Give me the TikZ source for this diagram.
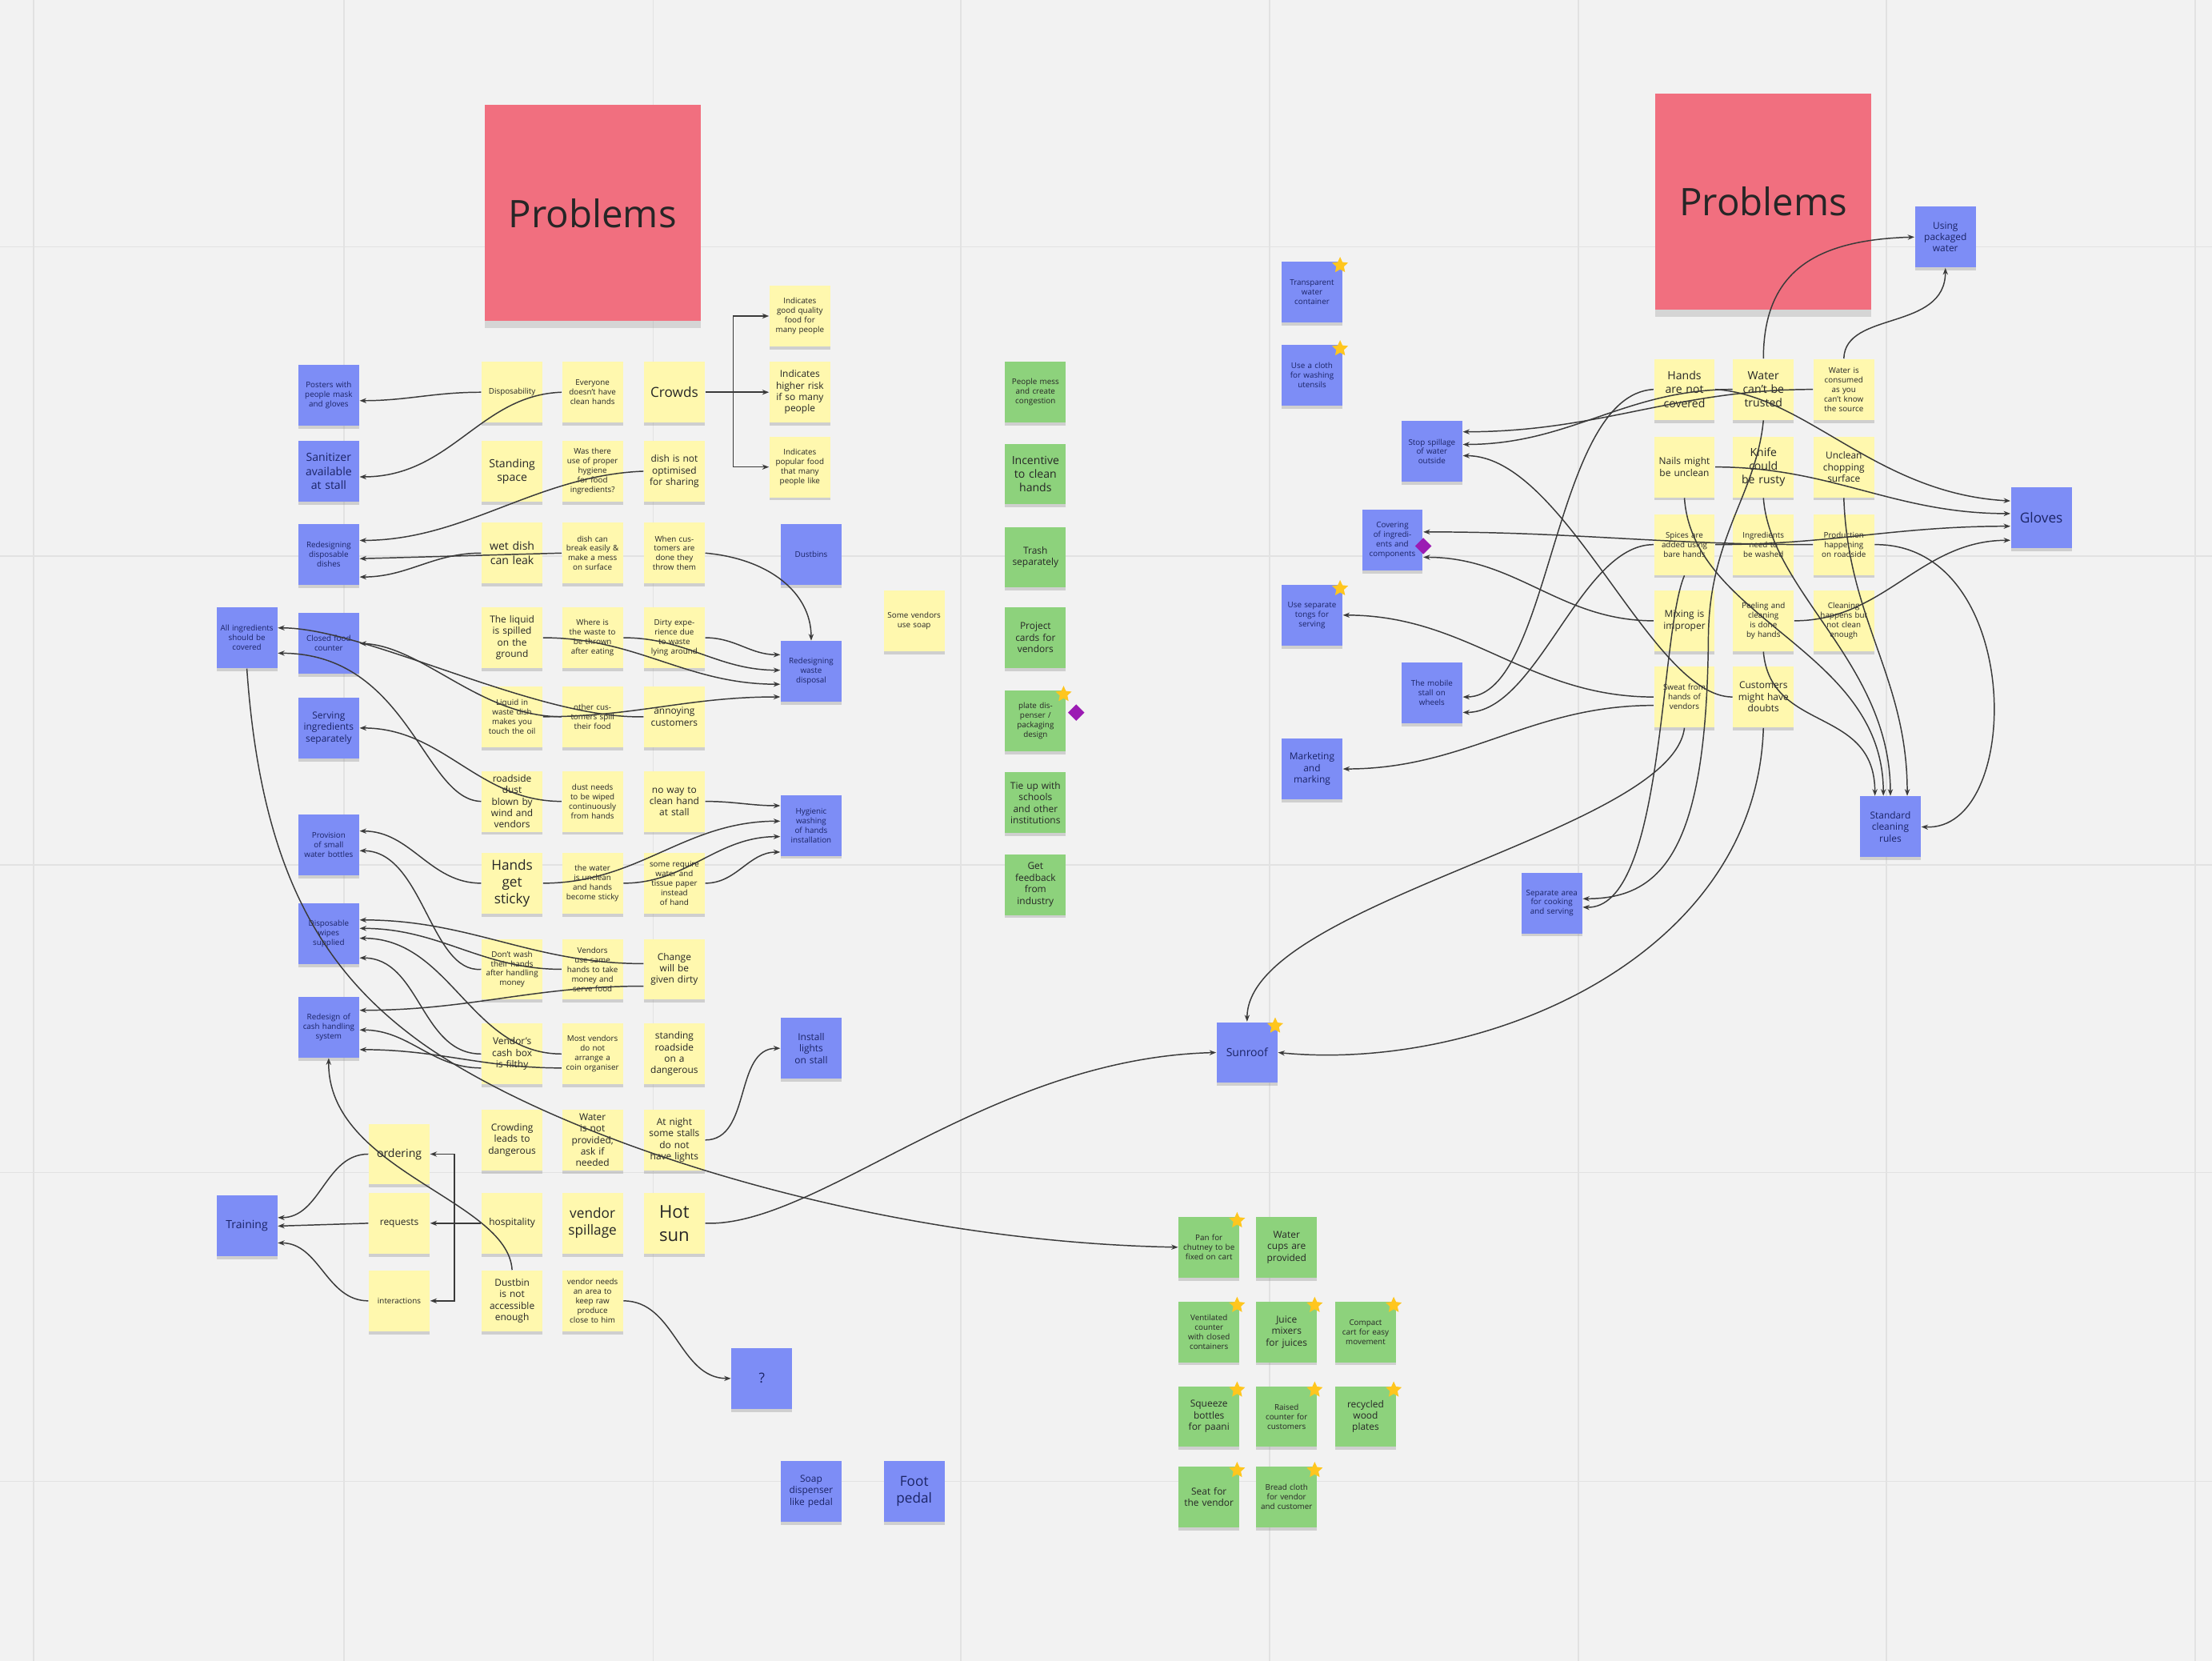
\documentclass[tikz,border=0pt]{standalone}
\usepackage{fontspec}
\setmainfont{Open Sans}
\usetikzlibrary{arrows.meta,shapes.geometric,shadows}
\definecolor{boardbg}{HTML}{F2F2F2}
\definecolor{gridln}{HTML}{E2E2E2}
\definecolor{stickyyel}{HTML}{FFF8AE}
\definecolor{stickyblu}{HTML}{7D8DF6}
\definecolor{stickygrn}{HTML}{8DD27C}
\definecolor{stickypnk}{HTML}{F16F7F}
\definecolor{badgeyel}{HTML}{FFC61E}
\definecolor{badgepur}{HTML}{9B1BB3}
\definecolor{inkline}{HTML}{3A3A3A}
\definecolor{bluetxt}{HTML}{1B2466}

% yellow star in the corner of a sticky
\newcommand{\starbadge}[1]{\node[badge] (#1-star) at ([xshift=-1pt,yshift=-1.5pt]#1.north east) {};}

\begin{document}
\begin{tikzpicture}[x=0.017634cm,y=-0.017634cm,
    every node/.style={font=\fontsize{2.8}{3.4}\selectfont,text=black!85},
    note/.style={minimum width=21.6pt,minimum height=21.6pt,text width=19pt,align=center,inner sep=0pt,
      drop shadow={shadow xshift=0pt,shadow yshift=-1.1pt,opacity=0.3}},
    ynote/.style={note,fill=stickyyel},
    bnote/.style={note,fill=stickyblu,text=bluetxt},
    gnote/.style={note,fill=stickygrn},
    pinknote/.style={minimum size=76.8pt,inner sep=0pt,fill=stickypnk,font=\fontsize{13.5}{16}\selectfont,
      drop shadow={shadow xshift=0pt,shadow yshift=-2.5pt,opacity=0.25}},
    txtS/.style={font=\fontsize{3.4}{4.1}\selectfont},
    txtM/.style={font=\fontsize{4}{4.9}\selectfont},
    txtL/.style={font=\fontsize{4.9}{6}\selectfont},
    txtXL/.style={font=\fontsize{6.3}{8.2}\selectfont},
    badge/.style={star,star points=5,star point ratio=2.1,fill=badgeyel,inner sep=0pt,minimum size=6pt},
    gem/.style={diamond,fill=badgepur,inner sep=0pt,minimum size=6pt},
    link/.style={-{Stealth[length=2.4pt,width=1.8pt]},draw=inkline,line width=0.42pt}]

  % board
  \fill[boardbg] (0,0) rectangle (1568,1177);
  \useasboundingbox (0,0) rectangle (1568,1177);
  \foreach \gx in {24,244,463,681,900,1119,1337,1556}
    \draw[gridln,line width=0.5pt] (\gx,0) -- (\gx,1177);
  \foreach \gy in {175,394,613,831,1050}
    \draw[gridln,line width=0.5pt] (0,\gy) -- (1568,\gy);

  % headers
  \node[pinknote] (probL) at (420,151) {Problems};
  \node[pinknote] (probR) at (1250,143) {Problems};

  % left solutions
  \node[bnote] (bl1) at (233,280) {Posters with people mask and gloves};
  \node[bnote,txtM] (bl2) at (233,334) {Sanitizer available at stall};
  \node[bnote] (bl3) at (233,393) {Redesigning disposable dishes};
  \node[bnote] (a1) at (175,452) {All ingredients should be covered};
  \node[bnote] (bl4) at (233,456) {Closed food counter};
  \node[bnote,txtS] (bl5) at (233,516) {Serving ingredients separately};
  \node[bnote] (bl6) at (233,599) {Provision of small water bottles};
  \node[bnote] (bl7) at (233,662) {Disposable wipes supplied};
  \node[bnote] (bl8) at (233,728) {Redesign of cash handling system};
  \node[bnote,txtM] (train) at (175,869) {Training};

  % left problems grid
  \node[ynote] (y11) at (363,278) {Disposability};
  \node[ynote] (y12) at (420,278) {Everyone doesn't have clean hands};
  \node[ynote,txtL] (y13) at (478,278) {Crowds};
  \node[ynote,txtM] (y21) at (363,334) {Standing\\space};
  \node[ynote] (y22) at (420,334) {Was there use of proper hygiene for food ingredients?};
  \node[ynote,txtS] (y23) at (478,334) {dish is not optimised for sharing};
  \node[ynote,txtM] (y31) at (363,392) {wet dish\\can leak};
  \node[ynote] (y32) at (420,392) {dish can break easily \& make a mess on surface};
  \node[ynote] (y33) at (478,392) {When customers are done they throw them};
  \node[ynote,txtS] (y41) at (363,452) {The liquid is spilled on the ground};
  \node[ynote] (y42) at (420,452) {Where is the waste to be thrown after eating};
  \node[ynote] (y43) at (478,452) {Dirty experience due to waste lying around};
  \node[ynote] (y51) at (363,508) {Liquid in waste dish makes you touch the oil};
  \node[ynote] (y52) at (420,508) {other customers spill their food};
  \node[ynote,txtS] (y53) at (478,508) {annoying\\customers};
  \node[ynote,txtS] (y61) at (363,568) {roadside dust blown by wind and vendors};
  \node[ynote] (y62) at (420,568) {dust needs to be wiped continuously from hands};
  \node[ynote,txtS] (y63) at (478,568) {no way to clean hand at stall};
  \node[ynote,txtL] (y71) at (363,626) {Hands\\get\\sticky};
  \node[ynote] (y72) at (420,626) {the water is unclean and hands become sticky};
  \node[ynote] (y73) at (478,626) {some require water and tissue paper instead of hand};
  \node[ynote] (y81) at (363,687) {Don't wash their hands after handling money};
  \node[ynote] (y82) at (420,687) {Vendors use same hands to take money and serve food};
  \node[ynote,txtS] (y83) at (478,687) {Change will be given dirty};
  \node[ynote,txtS] (y91) at (363,747) {Vendor's cash box is filthy};
  \node[ynote] (y92) at (420,747) {Most vendors do not arrange a coin organiser};
  \node[ynote,txtS] (y93) at (478,747) {standing roadside on a dangerous};
  \node[ynote,txtS] (y101) at (363,808) {Crowding leads to dangerous};
  \node[ynote,txtS] (y102) at (420,808) {Water is not provided, ask if needed};
  \node[ynote,txtS] (y103) at (478,808) {At night some stalls do not have lights};
  \node[ynote,txtS] (y111) at (363,867) {hospitality};
  \node[ynote,txtL] (y112) at (420,867) {vendor\\spillage};
  \node[ynote,txtXL] (y113) at (478,867) {Hot\\sun};
  \node[ynote,txtS] (y121) at (363,922) {Dustbin is not accessible enough};
  \node[ynote] (y122) at (420,922) {vendor needs an area to keep raw produce close to him};

  % crowds outcomes
  \node[ynote] (t1) at (567,224) {Indicates good quality food for many people};
  \node[ynote,txtS] (t2) at (567,278) {Indicates higher risk if so many people};
  \node[ynote] (t3) at (567,331) {Indicates popular food that many people like};

  % service notes
  \node[ynote,txtM] (ord) at (283,818) {ordering};
  \node[ynote,txtS] (req) at (283,867) {requests};
  \node[ynote] (int) at (283,922) {interactions};

  % solutions right of the grid
  \node[bnote] (rb1) at (575,393) {Dustbins};
  \node[bnote] (disp) at (575,476) {Redesigning waste disposal};
  \node[bnote] (hyg) at (575,585) {Hygienic washing of hands installation};
  \node[bnote,txtS] (lights) at (575,743) {Install lights on stall};
  \node[ynote] (lone) at (648,440) {Some vendors use soap};
  \node[bnote,txtL] (quest) at (540,977) {?};
  \node[bnote,txtS] (soap) at (575,1057) {Soap dispenser like pedal};
  \node[bnote,txtL] (foot) at (648,1057) {Foot\\pedal};

  % ideas column
  \node[gnote] (g1) at (734,278) {People mess and create congestion};
  \node[gnote,txtM] (g2) at (734,336) {Incentive to clean hands};
  \node[gnote,txtS] (g3) at (734,395) {Trash separately};
  \node[gnote,txtS] (g4) at (734,452) {Project cards for vendors};
  \node[gnote] (g5) at (734,511) {plate dispenser / packaging design};
  \node[gnote,txtS] (g6) at (734,569) {Tie up with schools and other institutions};
  \node[gnote,txtS] (g7) at (734,627) {Get feedback from industry};
  \starbadge{g5}
  \node[gem] (g5-gem) at ([xshift=3.5pt,yshift=3pt]g5.east) {};

  % right solutions
  \node[bnote] (tw) at (930,207) {Transparent water container};
  \node[bnote] (u2) at (930,266) {Use a cloth for washing utensils};
  \node[bnote] (sp) at (1015,320) {Stop spillage of water outside};
  \node[bnote] (cv) at (987,383) {Covering of ingredients and components};
  \node[bnote] (u3) at (930,436) {Use separate tongs for serving};
  \node[bnote] (tm) at (1015,491) {The mobile stall on wheels};
  \node[bnote,txtS] (mk) at (930,545) {Marketing and marking};
  \node[bnote] (sd) at (1100,640) {Separate area for cooking and serving};
  \node[bnote,txtM] (sun) at (884,746) {Sunroof};
  \node[bnote,txtS] (up) at (1379,168) {Using packaged water};
  \node[bnote,txtL] (gl) at (1447,367) {Gloves};
  \node[bnote,txtS] (sc) at (1340,586) {Standard cleaning rules};
  \starbadge{tw}
  \starbadge{u2}
  \starbadge{u3}
  \starbadge{sun}
  \node[gem] (cv-gem) at ([yshift=-2pt]cv.east) {};

  % right problems grid
  \node[ynote,txtM] (r11) at (1194,276) {Hands are not covered};
  \node[ynote,txtM] (r12) at (1250,276) {Water can't be trusted};
  \node[ynote] (r13) at (1307,276) {Water is consumed as you can't know the source};
  \node[ynote,txtS] (r21) at (1194,331) {Nails might be unclean};
  \node[ynote,txtM] (r22) at (1250,331) {Knife could be rusty};
  \node[ynote,txtS] (r23) at (1307,331) {Unclean chopping surface};
  \node[ynote] (r31) at (1194,386) {Spices are added using bare hands};
  \node[ynote] (r32) at (1250,386) {Ingredients need to be washed};
  \node[ynote] (r33) at (1307,386) {Production happening on roadside};
  \node[ynote,txtS] (r41) at (1194,440) {Mixing is improper};
  \node[ynote] (r42) at (1250,440) {Peeling and cleaning is done by hands};
  \node[ynote] (r43) at (1307,440) {Cleaning happens but not clean enough};
  \node[ynote] (r51) at (1194,494) {Sweat from hands of vendors};
  \node[ynote,txtS] (r52) at (1250,494) {Customers might have doubts};

  % cart ideas
  \node[gnote] (gb11) at (857,884) {Pan for chutney to be fixed on cart};
  \node[gnote,txtS] (gb12) at (912,884) {Water cups are provided};
  \node[gnote] (gb21) at (857,944) {Ventilated counter with closed containers};
  \node[gnote,txtS] (gb22) at (912,944) {Juice mixers for juices};
  \node[gnote] (gb23) at (968,944) {Compact cart for easy movement};
  \node[gnote,txtS] (gb31) at (857,1004) {Squeeze bottles for paani};
  \node[gnote] (gb32) at (912,1004) {Raised counter for customers};
  \node[gnote,txtS] (gb33) at (968,1004) {recycled wood plates};
  \node[gnote,txtS] (gb41) at (857,1061) {Seat for the vendor};
  \node[gnote] (gb42) at (912,1061) {Bread cloth for vendor and customer};
  \foreach \n in {gb11,gb21,gb22,gb23,gb31,gb32,gb33,gb41,gb42} {\starbadge{\n}}

  % left connectors
  \draw[link] (y11.west) to[out=180,in=0] ([yshift=-2pt]bl1.east);
  \draw[link] (y12.west) .. controls (340,280) and (320,338) .. ([yshift=-2pt]bl2.east);
  \coordinate (crfork) at ([xshift=10pt]y13.east);
  \draw[link] (y13.east) -- (crfork) |- (t2.west);
  \draw[link] (crfork) |- (t1.west);
  \draw[link] (crfork) |- (t3.west);
  \draw[link] (y23.west) .. controls (380,337) and (330,383) .. ([yshift=5pt]bl3.east);
  \draw[link] (y32.west) -- ([yshift=-1.5pt]bl3.east);
  \draw[link] (y31.west) to[out=180,in=0] ([yshift=-8pt]bl3.east);
  \draw[link] (y33.east) .. controls (545,396) and (575,420) .. (disp.north);
  \draw[link] (y43.east) to[out=0,in=180] ([yshift=6pt]disp.west);
  \draw[link] (y42.east) to[out=0,in=180] ([yshift=0.5pt]disp.west);
  \draw[link] (y41.east) to[out=0,in=180] ([yshift=-4.5pt]disp.west);
  \draw[link] (y51.east) to[out=0,in=180] ([yshift=-9pt]disp.west);
  \draw[link] (y53.west) .. controls (380,510) and (260,445) .. ([yshift=3.5pt]a1.east);
  \draw[link] (y52.west) .. controls (340,508) and (300,458) .. (bl4.east);
  \draw[link] (y61.west) .. controls (300,567) and (290,463) .. ([yshift=-5.5pt]a1.east);
  \draw[link] (y62.west) to[out=180,in=0] (bl5.east);
  \draw[link] (y63.east) to[out=0,in=180] ([yshift=7pt]hyg.west);
  \draw[link] (y71.east) to[out=0,in=180] ([yshift=1.5pt]hyg.west);
  \draw[link] (y72.east) to[out=0,in=180] ([yshift=-4pt]hyg.west);
  \draw[link] (y73.east) to[out=0,in=180] ([yshift=-9.5pt]hyg.west);
  \draw[link] (y71.west) to[out=180,in=0] ([yshift=5pt]bl6.east);
  \draw[link] (y81.west) .. controls (305,690) and (300,603) .. ([yshift=-2pt]bl6.east);
  \draw[link] (a1.south) .. controls (185,620) and (230,690) .. (300,740)
    .. controls (400,810) and (620,880) .. (gb11.west);
  \draw[link] ([yshift=2pt]y83.west) to[out=180,in=0] ([yshift=5pt]bl7.east);
  \draw[link] (y82.west) to[out=180,in=0] ([yshift=2pt]bl7.east);
  \draw[link] (y92.west) to[out=180,in=0] ([yshift=-1.5pt]bl7.east);
  \draw[link] (y91.west) to[out=180,in=0] ([yshift=-8.5pt]bl7.east);
  \draw[link] ([yshift=-6pt]y83.west) to[out=180,in=0] ([yshift=6pt]bl8.east);
  \draw[link] ([yshift=-5pt]y91.west) to[out=180,in=0] ([yshift=-1pt]bl8.east);
  \draw[link] ([yshift=-5pt]y92.west) to[out=180,in=0] ([yshift=-8pt]bl8.east);
  \draw[link] (y121.north) .. controls (360,850) and (232,830) .. (bl8.south);
  \draw[link] (y103.east) to[out=0,in=180] (lights.west);
  \draw[link] (y113.east) .. controls (580,870) and (700,750) .. (sun.west);
  \draw[link] (ord.west) to[out=180,in=0] ([yshift=3pt]train.east);
  \draw[link] (req.west) -- (train.east);
  \draw[link] (int.west) to[out=180,in=0] ([yshift=-6pt]train.east);
  \coordinate (hospfork) at ([xshift=-9.5pt]y111.west);
  \draw[link] (y111.west) -- (req.east);
  \draw[link] (hospfork) |- (ord.east);
  \draw[link] (hospfork) |- (int.east);
  \draw[link] (y122.east) to[out=0,in=180] (quest.west);

  % right connectors
  \draw[link] (r11.west) .. controls (1100,280) and (1100,494) .. ([yshift=-1.5pt]tm.east);
  \draw[link] (r31.west) .. controls (1120,386) and (1090,505) .. ([yshift=-7pt]tm.east);
  \draw[link] (r13.west) to[out=180,in=0] ([yshift=7pt]sp.east);
  \draw[link] (r12.west) to[out=180,in=0] ([yshift=2.5pt]sp.east);
  \draw[link] (r52.west) .. controls (1170,494) and (1110,323) .. ([yshift=-1.5pt]sp.east);
  \draw[link] (r33.west) to[out=180,in=0] ([yshift=3pt]cv.east);
  \draw[link] (r41.west) to[out=180,in=0] ([yshift=-6pt]cv.east);
  \draw[link] (r51.west) to[out=180,in=0] (u3.east);
  \draw[link] ([yshift=-3pt]r51.west) to[out=180,in=0] (mk.east);
  \draw[link] (r12.south) .. controls (1245,350) and (1212,380) .. (1211,450)
    .. controls (1210,600) and (1180,637) .. ([yshift=1.5pt]sd.east);
  \draw[link] (r31.south) .. controls (1176,450) and (1180,645) .. ([yshift=-1.5pt]sd.east);
  \draw[link] (r51.south) .. controls (1185,590) and (884,640) .. (sun.north);
  \draw[link] (r52.south) .. controls (1245,680) and (1050,760) .. (sun.east);
  \draw[link] (r12.north) .. controls (1250,190) and (1290,170) .. (up.west);
  \draw[link] (r13.north) .. controls (1308,220) and (1379,235) .. (up.south);
  \draw[link] (r42.south) .. controls (1255,520) and (1329,500) .. ([xshift=-5.5pt]sc.north);
  \draw[link] (r21.south) .. controls (1200,440) and (1335,460) .. ([xshift=-2.5pt]sc.north);
  \draw[link] (r22.south) .. controls (1255,420) and (1340,470) .. (sc.north);
  \draw[link] (r23.south) .. controls (1310,440) and (1352,480) .. ([xshift=6pt]sc.north);
  \draw[link] (r33.east) .. controls (1435,385) and (1435,590) .. (sc.east);
  \draw[link] (r11.east) .. controls (1280,280) and (1330,350) .. ([yshift=6pt]gl.west);
  \draw[link] (r21.east) to[out=0,in=180] ([yshift=1.5pt]gl.west);
  \draw[link] (r31.east) to[out=0,in=180] ([yshift=-3pt]gl.west);
  \draw[link] (r42.east) to[out=0,in=180] ([yshift=-8pt]gl.west);
\end{tikzpicture}
\end{document}
